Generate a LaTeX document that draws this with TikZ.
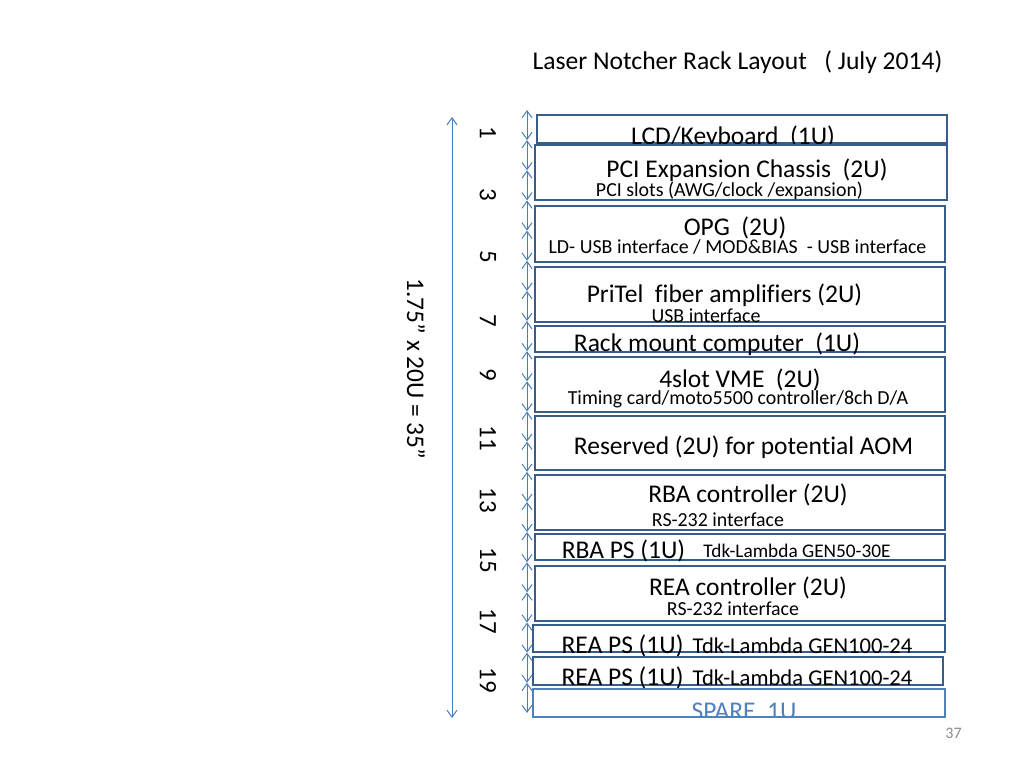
\documentclass[tikz,border=0pt]{standalone}
\usepackage{fontspec}
\setmainfont[Ligatures=NoCommon]{Carlito}
\usetikzlibrary{arrows.meta}
\definecolor{boxblue}{HTML}{385D8A}
\definecolor{arrblue}{HTML}{4A7EBB}
\definecolor{spareblue}{HTML}{4F81BD}
\definecolor{pagegray}{HTML}{8C8C8C}
\tikzset{
  rackbox/.style={draw=boxblue, line width=2.8pt, fill=white, inner sep=0pt, rectangle},
  sparebox/.style={draw=spareblue, line width=2.4pt, inner sep=0pt, rectangle},
  maintxt/.style={anchor=base, inner sep=0pt, font=\fontsize{25.5}{30}\selectfont},
  subtxt/.style={anchor=base, inner sep=0pt, font=\fontsize{19.9}{23}\selectfont},
  psnote/.style={anchor=base, inner sep=0pt, font=\fontsize{19.3}{23}\selectfont},
  psnotebig/.style={anchor=base, inner sep=0pt, font=\fontsize{22.6}{27}\selectfont},
  unitnum/.style={rotate=-90, inner sep=0pt, font=\fontsize{25}{30}\selectfont},
  dimarrow/.style={draw=arrblue, line width=1pt, {Straight Barb[length=7pt,width=10pt]}-{Straight Barb[length=7pt,width=10pt]}},
}
\newcommand\rackbox[6][rackbox]{%
  \node[#1, minimum width={(#5-#3)*1pt}, minimum height={(#6-#4)*1pt}]
    (#2) at ({(#3+#5)/2},{(#4+#6)/2}) {};}
\begin{document}
\begin{tikzpicture}[x=1pt,y=-1pt]
\useasboundingbox (0,0) rectangle (1024,768);
% title
\node[anchor=base, inner sep=0pt, font=\fontsize{25.6}{30}\selectfont] (title) at (737.5,69) {Laser Notcher Rack Layout\ \ \ ( July 2014)};
% big dimension arrow and label
\coordinate (bigtop) at (452,117);
\coordinate (bigbot) at (452,718);
\draw[dimarrow] (bigtop) -- (bigbot);
\node[rotate=-90, inner sep=0pt, font=\fontsize{25.4}{30}\selectfont] (total) at (416,369) {1.75” x 20U = 35”};
% small unit arrows
\foreach \i in {0,...,20} {\coordinate (u\i) at (527,{110+30.15*\i});}
\foreach \i [evaluate=\i as \j using int(\i+1)] in {0,...,19} {\draw[dimarrow] (u\i) -- (u\j);}
% unit numbers
\foreach \n/\y in {1/133,3/195,5/257,7/321,9/375,11/438,13/500,15/560,17/621,19/680} {
  \node[unitnum] (n\n) at (488,\y) {\n};}
% boxes
\rackbox{lcd}{537}{115}{947}{143}
\node[maintxt] (lcdt) at (733,144) {LCD/Keyboard\ \ (1U)};
\rackbox{pci}{535}{145}{947}{200}
\node[maintxt] (pcit) at (747,177) {PCI Expansion Chassis\ \ (2U)};
\node[subtxt] (pcis) at (729.5,196) {PCI slots (AWG/clock /expansion)};
\rackbox{opg}{535}{206}{945}{262}
\node[maintxt] (opgt) at (735,235) {OPG\ \ (2U)};
\node[subtxt] (opgs) at (737.5,253) {LD- USB interface / MOD\&BIAS\ \ - USB interface};
\rackbox{pri}{535}{267}{945}{322}
\node[maintxt] (prit) at (724.5,302) {PriTel\ \ fiber amplifiers (2U)};
\node[subtxt] (pris) at (706,322) {USB interface};
\rackbox{rack}{535}{326}{945}{352}
\node[maintxt] (rackt) at (717,351) {Rack mount computer\ \ (1U)};
\rackbox{vme}{535}{357}{945}{412}
\node[maintxt] (vmet) at (740,387) {4slot VME\ \ (2U)};
\node[subtxt] (vmes) at (738,404) {Timing card/moto5500 controller/8ch D/A};
\rackbox{res}{535}{416}{945}{470}
\node[maintxt] (rest) at (743.5,454) {Reserved (2U) for potential AOM};
\rackbox{rbac}{535}{475}{945}{530}
\node[maintxt] (rbact) at (748,502) {RBA controller (2U)};
\node[subtxt] (rbacs) at (718,526) {RS-232 interface};
\rackbox{rbap}{535}{534}{945}{560}
\node[maintxt] (rbapt) at (623.5,558) {RBA PS (1U)};
\node[psnote] (rbapn) at (797,557) {Tdk-Lambda GEN50-30E};
\rackbox{reac}{535}{566}{945}{621}
\node[maintxt] (react) at (748,595) {REA controller (2U)};
\node[subtxt] (reacs) at (733,615) {RS-232 interface};
\rackbox{reapa}{533}{625}{945}{652}
\node[maintxt] (reapat) at (622.5,653) {REA PS (1U)};
\node[psnotebig] (reapan) at (802.5,653) {Tdk-Lambda GEN100-24};
\rackbox{reapb}{533}{657}{943}{685}
\node[maintxt] (reapbt) at (622.5,685) {REA PS (1U)};
\node[psnotebig] (reapbn) at (802.5,685) {Tdk-Lambda GEN100-24};
\rackbox[sparebox, fill=white]{spare}{533}{689}{945}{717}
\begin{scope}
\clip (533,689) rectangle (945,717);
\node[maintxt, text=spareblue] (sparet) at (744,719) {SPARE\ \ 1U};
\end{scope}
\node[sparebox, minimum width=412pt, minimum height=28pt] at (739,703) {};
% page number
\node[anchor=base, inner sep=0pt, text=pagegray, font=\fontsize{16}{19}\selectfont] (page) at (953.5,738) {37};
\end{tikzpicture}
\end{document}
